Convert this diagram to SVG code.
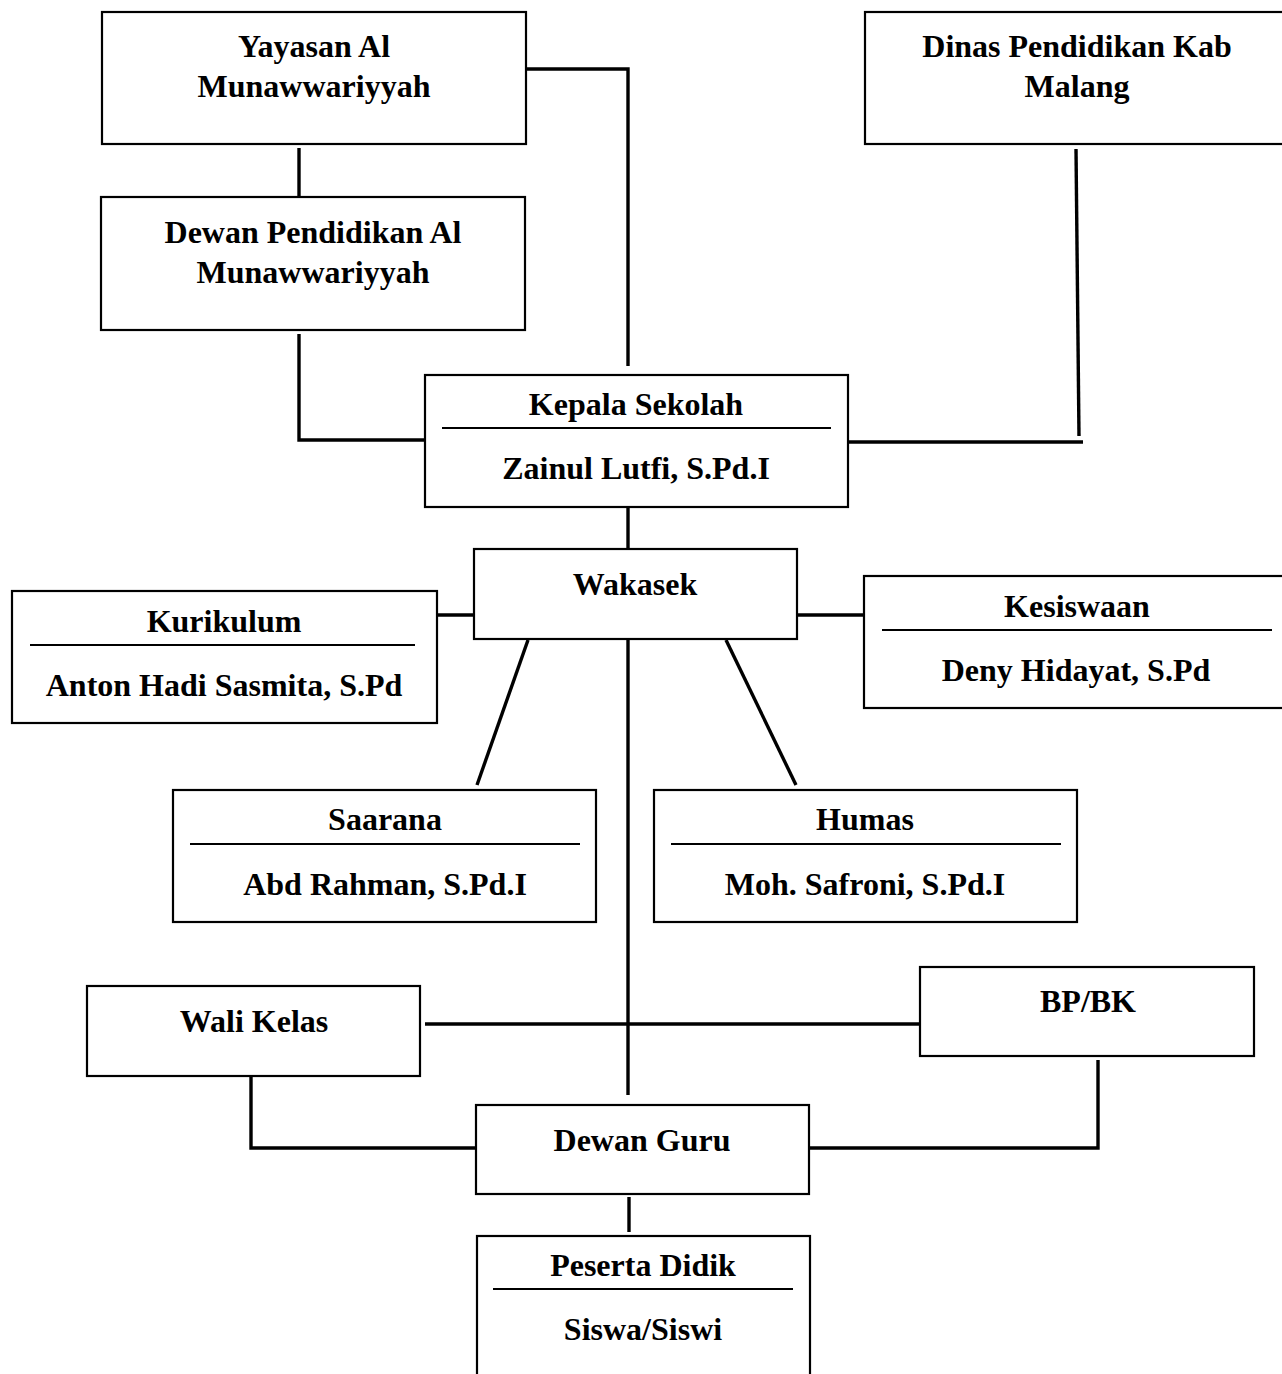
<svg xmlns="http://www.w3.org/2000/svg" width="1282" height="1374" viewBox="0 0 1282 1374">
<style>
.box{fill:#fff;stroke:#000;stroke-width:2.2}
.sep{stroke:#000;stroke-width:2}
.t{font-family:"Liberation Serif","Times New Roman",serif;font-weight:bold;font-size:32px;text-anchor:middle;fill:#000}
.c{fill:none;stroke:#000;stroke-width:3.4}
</style>
<rect width="1282" height="1374" fill="#fff"/>
<g id="connectors">
<polyline class="c" points="526,69 628,69 628,366"/>
<line class="c" x1="1076" y1="149" x2="1079" y2="436"/>
<line class="c" x1="848" y1="442" x2="1083" y2="442"/>
<line class="c" x1="299" y1="148" x2="299" y2="197"/>
<polyline class="c" points="299,334 299,440 425,440"/>
<line class="c" x1="628" y1="507" x2="628" y2="548"/>
<line class="c" x1="437" y1="615" x2="474" y2="615"/>
<line class="c" x1="797" y1="615" x2="864" y2="615"/>
<line class="c" x1="528" y1="640" x2="477" y2="785"/>
<line class="c" x1="726" y1="640" x2="796" y2="785"/>
<line class="c" x1="628" y1="640" x2="628" y2="1095"/>
<line class="c" x1="425" y1="1024" x2="920" y2="1024"/>
<polyline class="c" points="251,1076 251,1148 476,1148"/>
<polyline class="c" points="1098,1060 1098,1148 809,1148"/>
<line class="c" x1="629" y1="1197" x2="629" y2="1232"/>
</g>
<g id="yayasan">
<rect class="box" x="102" y="12" width="424" height="132"/>
<text class="t" x="314" y="57">Yayasan Al</text>
<text class="t" x="314" y="97">Munawwariyyah</text>
</g>
<g id="dinas">
<rect class="box" x="865" y="12" width="424" height="132"/>
<text class="t" x="1077" y="57">Dinas Pendidikan Kab</text>
<text class="t" x="1077" y="97">Malang</text>
</g>
<g id="dewan-pendidikan">
<rect class="box" x="101" y="197" width="424" height="133"/>
<text class="t" x="313" y="243">Dewan Pendidikan Al</text>
<text class="t" x="313" y="283">Munawwariyyah</text>
</g>
<g id="kepala">
<rect class="box" x="425" y="375" width="423" height="132"/>
<text class="t" x="636" y="415">Kepala Sekolah</text>
<line class="sep" x1="442" y1="428" x2="831" y2="428"/>
<text class="t" x="636" y="479">Zainul Lutfi, S.Pd.I</text>
</g>
<g id="wakasek">
<rect class="box" x="474" y="549" width="323" height="90"/>
<text class="t" x="635" y="595">Wakasek</text>
</g>
<g id="kurikulum">
<rect class="box" x="12" y="591" width="425" height="132"/>
<text class="t" x="224" y="632">Kurikulum</text>
<line class="sep" x1="30" y1="645" x2="415" y2="645"/>
<text class="t" x="224" y="696">Anton Hadi Sasmita, S.Pd</text>
</g>
<g id="kesiswaan">
<rect class="box" x="864" y="576" width="426" height="132"/>
<text class="t" x="1077" y="617">Kesiswaan</text>
<line class="sep" x1="882" y1="630" x2="1272" y2="630"/>
<text class="t" x="1076" y="681">Deny Hidayat, S.Pd</text>
</g>
<g id="saarana">
<rect class="box" x="173" y="790" width="423" height="132"/>
<text class="t" x="385" y="830">Saarana</text>
<line class="sep" x1="190" y1="844" x2="580" y2="844"/>
<text class="t" x="385" y="895">Abd Rahman, S.Pd.I</text>
</g>
<g id="humas">
<rect class="box" x="654" y="790" width="423" height="132"/>
<text class="t" x="865" y="830">Humas</text>
<line class="sep" x1="671" y1="844" x2="1061" y2="844"/>
<text class="t" x="865" y="895">Moh. Safroni, S.Pd.I</text>
</g>
<g id="wali-kelas">
<rect class="box" x="87" y="986" width="333" height="90"/>
<text class="t" x="254" y="1032">Wali Kelas</text>
</g>
<g id="bpbk">
<rect class="box" x="920" y="967" width="334" height="89"/>
<text class="t" x="1088" y="1012">BP/BK</text>
</g>
<g id="dewan-guru">
<rect class="box" x="476" y="1105" width="333" height="89"/>
<text class="t" x="642" y="1151">Dewan Guru</text>
</g>
<g id="peserta-didik">
<rect class="box" x="477" y="1236" width="333" height="150"/>
<text class="t" x="643" y="1276">Peserta Didik</text>
<line class="sep" x1="493" y1="1289" x2="793" y2="1289"/>
<text class="t" x="643" y="1340">Siswa/Siswi</text>
</g>
</svg>
